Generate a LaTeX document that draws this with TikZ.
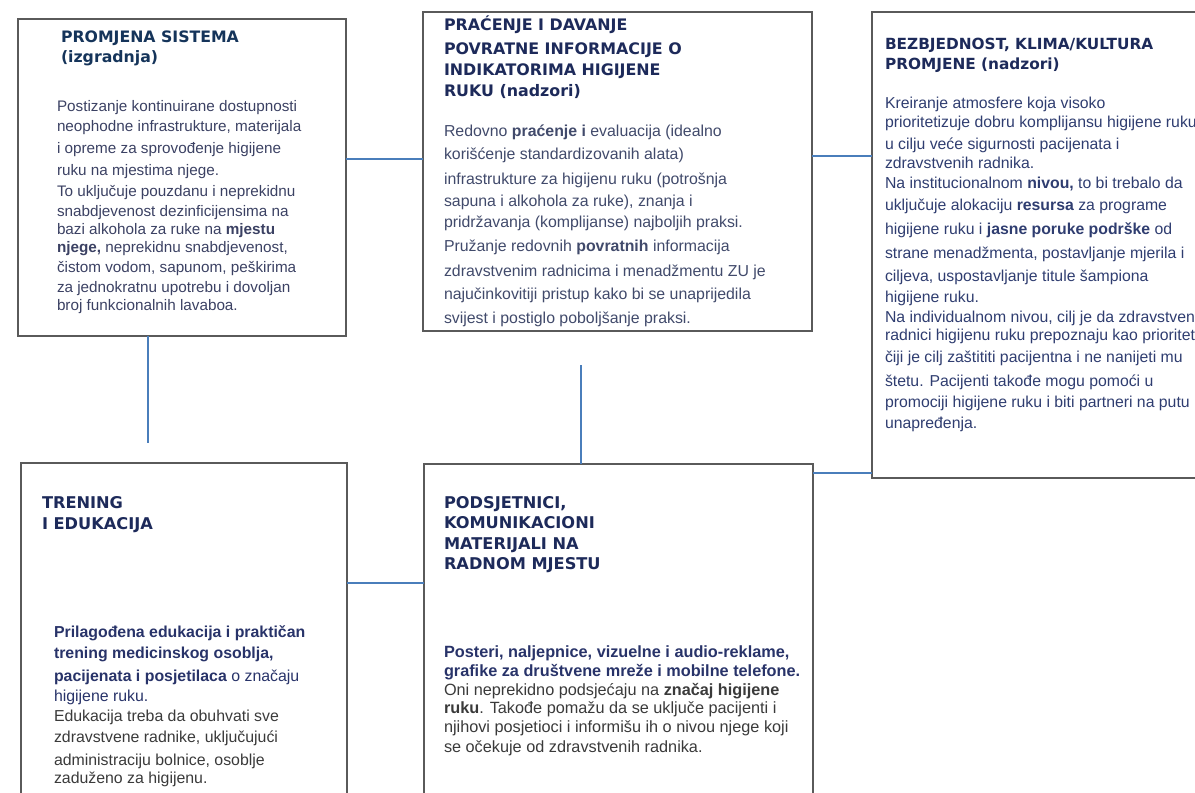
\documentclass[tikz,border=0pt]{standalone}
\usepackage{fontspec}
\setmainfont{Liberation Sans}
\newfontfamily\headfont{DejaVu Sans}

\definecolor{boxgray}{HTML}{5A5A5A}
\definecolor{connblue}{HTML}{4A7EBB}
\definecolor{headnavy}{HTML}{1D2A5A}
\definecolor{headteal}{HTML}{15345A}
\definecolor{bodyA}{HTML}{3B4163}
\definecolor{bodyB}{HTML}{414A6B}
\definecolor{bodyC}{HTML}{2F3D70}
\definecolor{boldnavy}{HTML}{283369}
\definecolor{plaingray}{HTML}{3A3A3A}

% one pixel of the layout grid
\newdimen\px \px=0.75pt
% a text line placed #1 px below the previous baseline
\newcommand\Lr[2]{\vskip#1\px\hbox{#2}}
% a stack of lines whose baseline is the first line
\newcommand\Stack[1]{\vtop{\baselineskip0pt\lineskip0pt\lineskiplimit-\maxdimen #1}}

\tikzset{
  box/.style 2 args={draw=boxgray, line width=1.1pt, anchor=north west,
    inner sep=0pt, outer sep=0pt, minimum width=#1*0.75pt, minimum height=#2*0.75pt},
  conn/.style={draw=connblue, line width=1.5pt},
  txt/.style={anchor=base west, inner sep=0pt, outer sep=0pt, align=left},
  head/.style={txt, font=\headfont\bfseries\fontsize{#1}{14pt}\selectfont, text=headnavy},
}

\begin{document}
\begin{tikzpicture}[x=0.75pt, y=-0.75pt]
\useasboundingbox (0,0) rectangle (1195,792);

% frames
\node[box={328}{317}] (b1) at (18,19) {};
\node[box={389}{319}] (b2) at (423,12) {};
\node[box={338}{466}] (b3) at (872,12) {};
\node[box={326}{337}] (b4) at (21,463) {};
\node[box={389}{336}] (b5) at (424,464) {};

% connectors
\draw[conn] (b1.east |- 0,159) -- (b2.west |- 0,159);
\draw[conn] (b2.east |- 0,156) -- (b3.west |- 0,156);
\coordinate (c3end) at (148,443);
\draw[conn] (c3end |- b1.south) -- (c3end);
\coordinate (c4top) at (581,365);
\draw[conn] (c4top) -- (c4top |- b5.north);
\draw[conn] (b5.east |- 0,473) -- (b3.west |- 0,473);
\draw[conn] (b4.east |- 0,583) -- (b5.west |- 0,583);

% system change
\node[head=11.8pt, text=headteal] (h1) at (61,43) {\Stack{%
  \hbox{PROMJENA SISTEMA}\Lr{20}{(izgradnja)}}};
\node[txt, font=\fontsize{11.45pt}{14pt}\selectfont, text=bodyA] (p1) at (57,111.5) {\Stack{%
  \hbox{Postizanje kontinuirane dostupnosti}
  \Lr{20}{neophodne infrastrukture, materijala}
  \Lr{22}{i opreme za sprovođenje higijene}
  \Lr{22}{ruku na mjestima njege.}
  \Lr{21}{To uključuje pouzdanu i neprekidnu}
  \Lr{20}{snabdjevenost dezinficijensima na}
  \Lr{18}{bazi alkohola za ruke na \textbf{mjestu}}
  \Lr{18}{\textbf{njege,} neprekidnu snabdjevenost,}
  \Lr{20}{čistom vodom, sapunom, peškirima}
  \Lr{20}{za jednokratnu upotrebu i dovoljan}
  \Lr{18}{broj funkcionalnih lavaboa.}}};

% monitoring and feedback
\node[head=11.9pt] (h2) at (444,31) {\Stack{%
  \hbox{PRAĆENJE I DAVANJE}
  \Lr{24}{POVRATNE INFORMACIJE O}
  \Lr{21}{INDIKATORIMA HIGIJENE}
  \Lr{21}{RUKU (nadzori)}}};
\node[txt, font=\fontsize{11.9pt}{14pt}\selectfont, text=bodyB] (p2) at (444,136.5) {\Stack{%
  \hbox{Redovno \textbf{praćenje i} evaluacija (idealno}
  \Lr{23}{korišćenje standardizovanih alata)}
  \Lr{25}{infrastrukture za higijenu ruku (potrošnja}
  \Lr{22}{sapuna i alkohola za ruke), znanja i}
  \Lr{21}{pridržavanja (komplijanse) najboljih praksi.}
  \Lr{24}{Pružanje redovnih \textbf{povratnih} informacija}
  \Lr{25}{zdravstvenim radnicima i menadžmentu ZU je}
  \Lr{23}{najučinkovitiji pristup kako bi se unaprijedila}
  \Lr{24}{svijest i postiglo poboljšanje praksi.}}};

% safety climate
\node[head=11.5pt] (h3) at (885,50) {\Stack{%
  \hbox{BEZBJEDNOST, KLIMA/KULTURA}\Lr{20}{PROMJENE (nadzori)}}};
\node[txt, font=\fontsize{11.85pt}{14pt}\selectfont, text=bodyC] (p3) at (885,108.5) {\Stack{%
  \hbox{Kreiranje atmosfere koja visoko}
  \Lr{19}{prioritetizuje dobru komplijansu higijene ruku}
  \Lr{22}{u cilju veće sigurnosti pacijenata i}
  \Lr{19}{zdravstvenih radnika.}
  \Lr{20}{Na institucionalnom \textbf{nivou,} to bi trebalo da}
  \Lr{22}{uključuje alokaciju \textbf{resursa} za programe}
  \Lr{24}{higijene ruku i \textbf{jasne poruke podrške} od}
  \Lr{24}{strane menadžmenta, postavljanje mjerila i}
  \Lr{23}{ciljeva, uspostavljanje titule šampiona}
  \Lr{21}{higijene ruku.}
  \Lr{20}{Na individualnom nivou, cilj je da zdravstveni}
  \Lr{18}{radnici higijenu ruku prepoznaju kao prioritet}
  \Lr{22}{čiji je cilj zaštititi pacijentna i ne nanijeti mu}
  \Lr{24}{štetu. Pacijenti takođe mogu pomoći u}
  \Lr{21}{promociji higijene ruku i biti partneri na putu}
  \Lr{21}{unapređenja.}}};

% training and education
\node[head=12.15pt] (h4) at (42,508) {\Stack{%
  \hbox{TRENING}\Lr{21}{I EDUKACIJA}}};
\node[txt, font=\fontsize{11.9pt}{14pt}\selectfont, text=plaingray] (p4) at (54,637.5) {\Stack{%
  \hbox{\color{boldnavy}\textbf{Prilagođena edukacija i praktičan}}
  \Lr{21}{\color{boldnavy}\textbf{trening medicinskog osoblja,}}
  \Lr{23}{\color{boldnavy}\textbf{pacijenata i posjetilaca} o značaju}
  \Lr{20}{\color{boldnavy}higijene ruku.}
  \Lr{20}{Edukacija treba da obuhvati sve}
  \Lr{21}{zdravstvene radnike, uključujući}
  \Lr{23}{administraciju bolnice, osoblje}
  \Lr{18}{zaduženo za higijenu.}}};

% reminders in the workplace
\node[head=12.15pt] (h5) at (444,508) {\Stack{%
  \hbox{PODSJETNICI,}
  \Lr{20}{KOMUNIKACIONI}
  \Lr{21}{MATERIJALI NA}
  \Lr{20}{RADNOM MJESTU}}};
\node[txt, font=\fontsize{12.2pt}{14pt}\selectfont, text=plaingray] (p5) at (444,657.5) {\Stack{%
  \hbox{\color{boldnavy}\textbf{Posteri, naljepnice, vizuelne i audio-reklame,}}
  \Lr{19}{\color{boldnavy}\textbf{grafike za društvene mreže i mobilne telefone.}}
  \Lr{19}{Oni neprekidno podsjećaju na \textbf{značaj higijene}}
  \Lr{18}{\textbf{ruku}. Takođe pomažu da se uključe pacijenti i}
  \Lr{19}{njihovi posjetioci i informišu ih o nivou njege koji}
  \Lr{20}{se očekuje od zdravstvenih radnika.}}};
\end{tikzpicture}
\end{document}
